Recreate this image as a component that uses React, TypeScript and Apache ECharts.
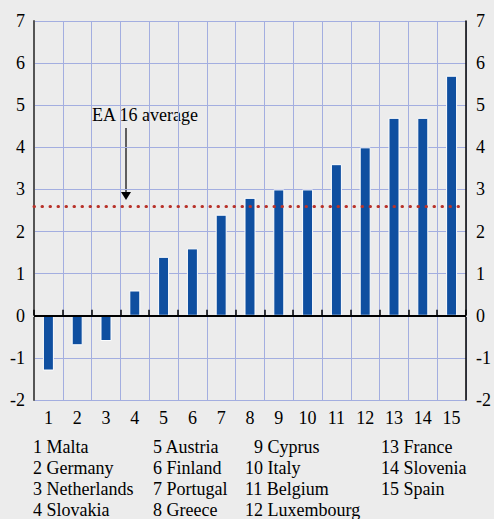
import React, { useEffect, useRef } from "react";
import * as echarts from "echarts";

const categories = ["1","2","3","4","5","6","7","8","9","10","11","12","13","14","15"];
const values = [-1.3, -0.7, -0.6, 0.6, 1.4, 1.6, 2.4, 2.8, 3.0, 3.0, 3.6, 4.0, 4.7, 4.7, 5.7];
const average = 2.6;
const countries = ["Malta","Germany","Netherlands","Slovakia","Austria","Finland","Portugal","Greece","Cyprus","Italy","Belgium","Luxembourg","France","Slovenia","Spain"];
const yTicks = { min: -2, max: 7, interval: 1 };

const FONT = "Liberation Serif";
const FS = 18;

export default function App() {
  const ref = useRef<HTMLDivElement>(null);
  useEffect(() => {
    if (!ref.current) return;
    const chart = echarts.init(ref.current, null, { renderer: "svg" });
    const colX = [33, 153, 245, 381];
    const rowY = [447, 468, 489, 510];
    const legendTexts: any[] = countries.map((c, i) => {
      const col = Math.floor(i / 4);
      const row = i % 4;
      const num = i + 1;
      const indent = col === 2 && num < 10 ? 9 : 0;
      return {
        type: "text",
        x: colX[col] + indent,
        y: rowY[row],
        style: { text: `${num} ${c}`, fontFamily: FONT, fontSize: FS, fill: "#000", verticalAlign: "middle" },
      };
    });
    chart.setOption({
      animation: false,
      backgroundColor: "#ececec",
      textStyle: { fontFamily: FONT },
      grid: { left: 34, right: 28, top: 21, bottom: 119 },
      xAxis: {
        type: "category",
        data: categories,
        boundaryGap: true,
        axisLine: { show: true, lineStyle: { color: "#ffffff", width: 2 } },
        axisTick: { show: true, inside: true, length: 6, lineStyle: { color: "#000", width: 1.5 } },
        axisLabel: { fontFamily: FONT, fontSize: FS, color: "#000", margin: 9 },
        splitLine: { show: true, lineStyle: { color: "#a3aee0", width: 1 } },
      },
      yAxis: [
        {
          type: "value",
          ...yTicks,
          position: "left",
          axisLine: { show: true, lineStyle: { color: "#555", width: 2 } },
          axisTick: { show: false },
          axisLabel: { fontFamily: FONT, fontSize: FS, color: "#000", margin: 9 },
          splitLine: { show: true, lineStyle: { color: "#a3aee0", width: 1 } },
        },
        {
          type: "value",
          ...yTicks,
          position: "right",
          axisLine: { show: true, lineStyle: { color: "#000", width: 1.5 } },
          axisTick: { show: false },
          axisLabel: { fontFamily: FONT, fontSize: FS, color: "#000", margin: 10 },
          splitLine: { show: false },
        },
      ],
      series: [
        {
          type: "bar",
          data: values,
          barWidth: 11,
          itemStyle: { color: "#0f4fa0", borderColor: "#ffffff", borderWidth: 1 },
          z: 3,
          markLine: {
            silent: true,
            symbol: "none",
            label: { show: false },
            data: [
              { yAxis: 0, lineStyle: { color: "#000", width: 2, type: "solid" } },
              { yAxis: average, lineStyle: { color: "#b8322a", width: 3, type: [0.5, 7.5], cap: "round" } },
            ],
          },
        },
      ],
      graphic: [
        {
          type: "text",
          x: 92,
          y: 115,
          style: { text: "EA 16 average", fontFamily: FONT, fontSize: FS, fill: "#000", verticalAlign: "middle" },
        },
        { type: "line", shape: { x1: 126, y1: 128, x2: 126, y2: 193 }, style: { stroke: "#000", lineWidth: 1.2 } },
        { type: "polygon", shape: { points: [[121, 192], [131, 192], [126, 200]] }, style: { fill: "#000" } },
        ...legendTexts,
      ],
    });
    return () => chart.dispose();
  }, []);
  return <div ref={ref} style={{ width: 494, height: 519, position: "absolute", left: 0, top: 0 }} />;
}
